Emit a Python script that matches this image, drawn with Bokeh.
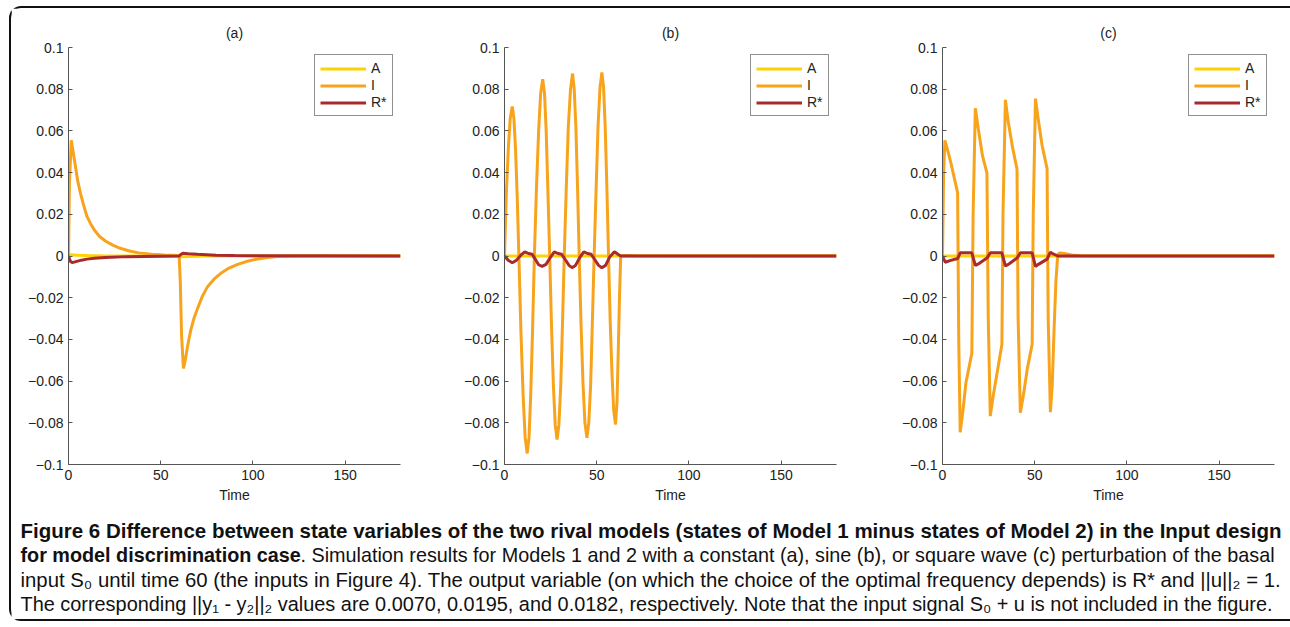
from bokeh.plotting import figure
from bokeh.models import Range1d, FixedTicker, CustomJSTickFormatter, Label
from bokeh.layouts import row, column
from bokeh.embed import file_html
from bokeh.resources import INLINE

# ---------------- data ----------------
SERIES = ["A", "I", "R*"]
COLORS = {"A": "#FFD200", "I": "#F8A31C", "R*": "#A82A2A"}
PANEL_TITLES = ["(a)", "(b)", "(c)"]
X_TICKS = [0, 50, 100, 150]
Y_TICKS = [-0.1, -0.08, -0.06, -0.04, -0.02, 0, 0.02, 0.04, 0.06, 0.08, 0.1]

# panel (a): constant perturbation
a_tA = [0, 1, 5, 10, 20, 60, 61, 65, 75, 180]
a_A = [0, 0.0006, 0.0004, 0.0002, 0, 0, -0.0004, -0.0003, 0, 0]
a_tI = [0, 0.5, 1.5, 2.5, 3.8, 5, 6.5, 8, 10, 12, 14, 17, 20, 24, 28, 33, 38, 45, 52,
        60, 60.6, 61.3, 62.3, 63.3, 64.5, 66.3, 68, 70, 72.5, 75.4, 79, 82.6, 87, 91.7,
        97, 102.5, 108, 113, 120, 130, 180]
a_I = [0, 0.035, 0.0555, 0.050, 0.0428, 0.036, 0.030, 0.025, 0.019, 0.0155, 0.0125,
       0.0092, 0.0072, 0.0052, 0.0037, 0.0024, 0.0015, 0.0009, 0.0005,
       0.0002, -0.012, -0.038, -0.0539, -0.050, -0.0435, -0.0355, -0.030, -0.0251,
       -0.0195, -0.0147, -0.011, -0.0083, -0.0058, -0.004,
       -0.0025, -0.0014, -0.0007, -0.0003, -0.0001, 0, 0]
a_tR = [0, 1, 2, 4, 7, 10, 14, 20, 32, 60, 61, 62, 65, 70, 80, 90, 100, 180]
a_R = [0, -0.0025, -0.0032, -0.0027, -0.002, -0.0015, -0.0011, -0.0007, -0.0003, 0,
       0.0008, 0.0013, 0.0011, 0.0008, 0.0004, 0.0002, 0.0001, 0]

# panel (b): sine perturbation
b_tA = [0, 63, 180]
b_A = [0, 0, 0]
b_tI = [0, 1.0, 2.1, 3.1, 4.2, 5.1, 6.0, 6.9, 7.8,
        8.9, 10.1, 11.2, 12.3, 13.3, 14.2, 15.2, 16.2,
        17.3, 18.5, 19.6, 20.7, 21.7, 22.6, 23.5, 24.5,
        25.5, 26.5, 27.5, 28.5, 29.5, 30.5, 31.4, 32.4,
        33.5, 34.6, 35.8, 36.9, 37.8, 38.7, 39.6, 40.5,
        41.5, 42.6, 43.6, 44.7, 45.7, 46.7, 47.6, 48.6,
        49.7, 50.7, 51.8, 52.8, 53.7, 54.6, 55.5, 56.4,
        57.3, 58.3, 59.2, 60.2, 61.0, 61.7, 62.4, 63.0, 65, 70, 180]
b_I = [0, 0.030, 0.052, 0.066, 0.0717, 0.066, 0.051, 0.028, 0,
       -0.036, -0.067, -0.087, -0.0947, -0.087, -0.067, -0.036, 0,
       0.032, 0.060, 0.078, 0.0848, 0.078, 0.060, 0.032, 0,
       -0.034, -0.062, -0.081, -0.088, -0.081, -0.062, -0.034, 0,
       0.033, 0.062, 0.080, 0.0875, 0.080, 0.062, 0.033, 0,
       -0.033, -0.062, -0.080, -0.0872, -0.080, -0.062, -0.033, 0,
       0.033, 0.062, 0.081, 0.088, 0.081, 0.062, 0.033, 0,
       -0.031, -0.057, -0.074, -0.0808, -0.070, -0.045, -0.018, 0, 0.0003, 0.0001, 0]
b_tR = [0, 2, 4.2, 6.5, 9, 11, 13, 15, 17, 18.5, 20.4, 22.5, 25, 27, 29, 31, 33, 35,
        36.6, 38.5, 41, 43, 45, 47, 49, 51, 52.8, 54.8, 57, 59.6, 61.5, 63, 180]
b_R = [0, -0.002, -0.0032, -0.002, 0.0005, 0.002, 0.0012, 0.0008, -0.002, -0.0042,
       -0.005, -0.004, -0.0005, 0.002, 0.0012, 0.0008, -0.0018, -0.0045,
       -0.0056, -0.0045, -0.0005, 0.002, 0.0012, 0.0008, -0.0018, -0.0045, -0.0056,
       -0.0045, -0.0005, 0.002, 0.0008, 0, 0]

# panel (c): square-wave perturbation
c_tA = [0, 63, 180]
c_A = [0, 0, 0]
c_tI = [0, 0.6, 1.3, 3, 4.5, 8.2, 8.8, 9.6, 11, 12.7, 15.9,
        16.6, 17.8, 19.4, 21.7, 24.1, 24.8, 25.9, 27.5, 30, 32.2,
        32.8, 34.1, 35.7, 38, 40.4, 41, 42.2, 44, 46, 48.6,
        49.2, 50.4, 52, 54, 56.7, 57.3, 58.5, 59.5, 60.5, 61.5, 62.5, 63.5,
        66, 70, 75, 180]
c_I = [0, 0.040, 0.0555, 0.050, 0.0448, 0.0304, -0.040, -0.0845, -0.075, -0.0608, -0.0467,
       0.020, 0.0709, 0.061, 0.048, 0.0397, -0.030, -0.0768, -0.067, -0.054, -0.0424,
       0.020, 0.0749, 0.064, 0.052, 0.0416, -0.030, -0.0752, -0.066, -0.054, -0.0424,
       0.020, 0.0755, 0.065, 0.053, 0.0419, -0.030, -0.0749, -0.062, -0.035, -0.012,
       0.0008, 0.0015, 0.0012, 0.0005, 0.0001, 0]
c_tR = [0, 1.5, 4, 8.2, 9.6, 12, 15.9, 17.8, 20, 24.1, 25.9, 28, 32.2, 34.1, 36,
        40.4, 42.2, 44, 48.6, 50.4, 52, 56.7, 58.5, 60, 62.5, 180]
c_R = [0, -0.003, -0.0022, -0.0012, 0.0015, 0.0015, 0.0015, -0.0045, -0.0035, -0.001,
       0.0015, 0.0015, 0.0015, -0.0048, -0.0038, -0.001, 0.0015, 0.0015, 0.0015,
       -0.005, -0.004, -0.0015, 0.0018, 0.001, 0, 0]

PANELS = [
    (a_tA, a_A, a_tI, a_I, a_tR, a_R),
    (b_tA, b_A, b_tI, b_I, b_tR, b_R),
    (c_tA, c_A, c_tI, c_I, c_tR, c_R),
]

CAPTION_BOLD_1 = ("Figure 6 Difference between state variables of the two rival models "
                  "(states of Model 1 minus states of Model 2) in the Input design")
CAPTION_BOLD_2 = "for model discrimination case"
CAPTION_2 = (". Simulation results for Models 1 and 2 with a constant (a), sine (b), "
             "or square wave (c) perturbation of the basal")
CAPTION_3 = ("input S\u2080 until time 60 (the inputs in Figure 4). The output variable "
             "(on which the choice of the optimal frequency depends) is R* and ||u||\u2082 = 1.")
CAPTION_4 = ("The corresponding ||y\u2081 - y\u2082||\u2082 values are 0.0070, 0.0195, and 0.0182, "
             "respectively. Note that the input signal S\u2080 + u is not included in the figure.")

# ---------------- styling / layout ----------------
FONT = "Liberation Sans"
CAP_FONT = "Liberation Sans"
PANEL_WIDTHS = [436, 438, 405]
BORDER_RIGHT = [47, 49, 16]

tick_fmt = CustomJSTickFormatter(code="""
const s = String(Math.round(tick * 100) / 100);
return s.replace('-', '\\u2212');
""")


def make_panel(i):
    tA, A, tI, I, tR, R = PANELS[i]
    p = figure(width=PANEL_WIDTHS[i], height=500,
               x_range=Range1d(0, 180), y_range=Range1d(-0.1, 0.1),
               output_backend="svg", toolbar_location=None,
               min_border_left=57, min_border_right=BORDER_RIGHT[i],
               min_border_top=39, min_border_bottom=44,
               title=PANEL_TITLES[i])
    p.title.align = "center"
    p.title.text_font = FONT
    p.title.text_font_size = "14px"
    p.title.text_font_style = "normal"
    p.title.text_color = "#222222"
    p.title.standoff = 14
    p.outline_line_color = None
    p.grid.visible = False
    p.background_fill_color = "white"
    p.border_fill_color = "white"

    for ax in (p.xaxis[0], p.yaxis[0]):
        ax.axis_line_color = "#555555"
        ax.major_tick_line_color = "#555555"
        ax.major_tick_in = 4
        ax.major_tick_out = 0
        ax.minor_tick_line_color = None
        ax.major_label_text_font = FONT
        ax.major_label_text_font_size = "14px"
        ax.major_label_text_color = "#222222"
        ax.major_label_standoff = 5
    p.xaxis[0].ticker = FixedTicker(ticks=X_TICKS)
    p.yaxis[0].ticker = FixedTicker(ticks=Y_TICKS)
    p.yaxis[0].formatter = tick_fmt
    p.xaxis[0].axis_label = "Time"
    p.xaxis[0].axis_label_text_font = FONT
    p.xaxis[0].axis_label_text_font_size = "14px"
    p.xaxis[0].axis_label_text_font_style = "normal"
    p.xaxis[0].axis_label_text_color = "#222222"
    p.xaxis[0].axis_label_standoff = 4

    p.line(tA, A, color=COLORS["A"], line_width=3, legend_label="A")
    p.line(tI, I, color=COLORS["I"], line_width=3, legend_label="I")
    p.line(tR, R, color=COLORS["R*"], line_width=3, legend_label="R*")

    lg = p.legend[0]
    lg.location = "top_right"
    lg.margin = 7
    lg.padding = 5
    lg.spacing = 1
    lg.glyph_width = 46
    lg.glyph_height = 15
    lg.label_height = 15
    lg.label_width = 16
    lg.label_standoff = 5
    lg.label_text_font = FONT
    lg.label_text_font_size = "14px"
    lg.label_text_color = "#222222"
    lg.border_line_color = "#222222"
    lg.border_line_width = 1
    lg.background_fill_alpha = 1
    return p


panels = [make_panel(i) for i in range(3)]

cap = figure(width=1279, height=111, x_range=Range1d(0, 1279), y_range=Range1d(111, 0),
             output_backend="svg", toolbar_location=None, x_axis_type=None, y_axis_type=None,
             min_border=0)
cap.outline_line_color = None
cap.grid.visible = False

line_y = [22, 46, 71, 95]


def cap_label(x, y, text, size, bold=False):
    cap.add_layout(Label(x=x, y=y, text=text, text_font=CAP_FONT, text_font_size=size,
                         text_font_style="bold" if bold else "normal",
                         text_baseline="middle", text_color="#111111"))


cap_label(9, line_y[0], CAPTION_BOLD_1, "20.5px", bold=True)
cap_label(9, line_y[1], CAPTION_BOLD_2, "19.8px", bold=True)
cap_label(289, line_y[1], CAPTION_2, "19.8px")
cap_label(9, line_y[2], CAPTION_3, "20.35px")
cap_label(9, line_y[3], CAPTION_4, "19.9px")

layout = column(row(*panels), cap, margin=(6, 0, 0, 9),
                styles={"border-left": "2px solid #111111",
                        "border-top": "2px solid #111111",
                        "border-bottom": "2px solid #111111",
                        "border-top-left-radius": "12px",
                        "border-bottom-left-radius": "12px"})

open("out.html", "w").write(file_html(layout, INLINE))
